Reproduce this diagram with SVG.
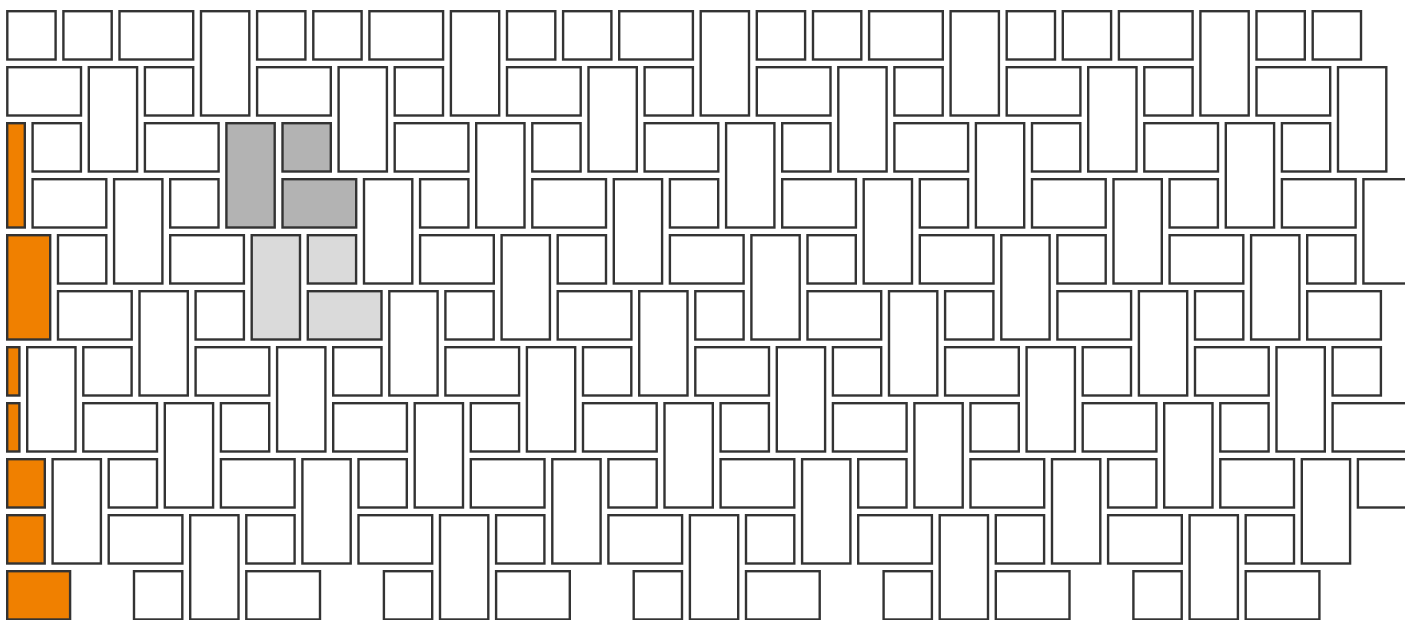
<svg xmlns="http://www.w3.org/2000/svg" width="1405" height="620" viewBox="0 0 1405 620">
<style>
rect{fill:#fff;stroke:#333;stroke-width:2.4}
.o{fill:#f08000}
.d{fill:#b3b3b3}
.l{fill:#dadada}
</style>
<rect x="0" y="0" width="1405" height="620" style="fill:#fff;stroke:none"/>
<g id="row0">
<rect x="7.3" y="11.2" width="48.3" height="48.3"/><rect x="63.4" y="11.2" width="48.3" height="48.3"/><rect x="119.5" y="11.2" width="73.7" height="48.3"/><rect x="201.0" y="11.2" width="48.3" height="104.3"/>
<rect x="257.1" y="11.2" width="48.3" height="48.3"/><rect x="313.3" y="11.2" width="48.3" height="48.3"/><rect x="369.4" y="11.2" width="73.7" height="48.3"/><rect x="450.9" y="11.2" width="48.3" height="104.3"/>
<rect x="507.0" y="11.2" width="48.3" height="48.3"/><rect x="563.1" y="11.2" width="48.3" height="48.3"/><rect x="619.2" y="11.2" width="73.7" height="48.3"/><rect x="700.7" y="11.2" width="48.3" height="104.3"/>
<rect x="756.8" y="11.2" width="48.3" height="48.3"/><rect x="813.0" y="11.2" width="48.3" height="48.3"/><rect x="869.1" y="11.2" width="73.7" height="48.3"/><rect x="950.6" y="11.2" width="48.3" height="104.3"/>
<rect x="1006.7" y="11.2" width="48.3" height="48.3"/><rect x="1062.8" y="11.2" width="48.3" height="48.3"/><rect x="1118.9" y="11.2" width="73.7" height="48.3"/><rect x="1200.4" y="11.2" width="48.3" height="104.3"/>
<rect x="1256.5" y="11.2" width="48.3" height="48.3"/><rect x="1312.7" y="11.2" width="48.3" height="48.3"/>
</g>
<g id="row1">
<rect x="7.3" y="67.2" width="73.7" height="48.3"/><rect x="88.8" y="67.2" width="48.3" height="104.3"/><rect x="144.9" y="67.2" width="48.3" height="48.3"/>
<rect x="257.1" y="67.2" width="73.7" height="48.3"/><rect x="338.6" y="67.2" width="48.3" height="104.3"/><rect x="394.7" y="67.2" width="48.3" height="48.3"/>
<rect x="507.0" y="67.2" width="73.7" height="48.3"/><rect x="588.5" y="67.2" width="48.3" height="104.3"/><rect x="644.6" y="67.2" width="48.3" height="48.3"/>
<rect x="756.8" y="67.2" width="73.7" height="48.3"/><rect x="838.3" y="67.2" width="48.3" height="104.3"/><rect x="894.4" y="67.2" width="48.3" height="48.3"/>
<rect x="1006.7" y="67.2" width="73.7" height="48.3"/><rect x="1088.2" y="67.2" width="48.3" height="104.3"/><rect x="1144.3" y="67.2" width="48.3" height="48.3"/>
<rect x="1256.5" y="67.2" width="73.7" height="48.3"/><rect x="1338.0" y="67.2" width="48.3" height="104.3"/>
</g>
<g id="row2">
<rect class="o" x="7.2" y="123.2" width="17.6" height="104.3"/><rect x="32.6" y="123.2" width="48.3" height="48.3"/><rect x="144.9" y="123.2" width="73.7" height="48.3"/>
<rect class="d" x="226.4" y="123.2" width="48.3" height="104.3"/><rect class="d" x="282.5" y="123.2" width="48.3" height="48.3"/><rect x="394.7" y="123.2" width="73.7" height="48.3"/>
<rect x="476.2" y="123.2" width="48.3" height="104.3"/><rect x="532.3" y="123.2" width="48.3" height="48.3"/><rect x="644.6" y="123.2" width="73.7" height="48.3"/>
<rect x="726.1" y="123.2" width="48.3" height="104.3"/><rect x="782.2" y="123.2" width="48.3" height="48.3"/><rect x="894.4" y="123.2" width="73.7" height="48.3"/>
<rect x="975.9" y="123.2" width="48.3" height="104.3"/><rect x="1032.0" y="123.2" width="48.3" height="48.3"/><rect x="1144.3" y="123.2" width="73.7" height="48.3"/>
<rect x="1225.8" y="123.2" width="48.3" height="104.3"/><rect x="1281.9" y="123.2" width="48.3" height="48.3"/>
</g>
<g id="row3">
<rect x="32.6" y="179.2" width="73.7" height="48.3"/><rect x="114.1" y="179.2" width="48.3" height="104.3"/><rect x="170.2" y="179.2" width="48.3" height="48.3"/>
<rect class="d" x="282.5" y="179.2" width="73.7" height="48.3"/><rect x="364.0" y="179.2" width="48.3" height="104.3"/><rect x="420.1" y="179.2" width="48.3" height="48.3"/>
<rect x="532.3" y="179.2" width="73.7" height="48.3"/><rect x="613.8" y="179.2" width="48.3" height="104.3"/><rect x="669.9" y="179.2" width="48.3" height="48.3"/>
<rect x="782.2" y="179.2" width="73.7" height="48.3"/><rect x="863.7" y="179.2" width="48.3" height="104.3"/><rect x="919.8" y="179.2" width="48.3" height="48.3"/>
<rect x="1032.0" y="179.2" width="73.7" height="48.3"/><rect x="1113.5" y="179.2" width="48.3" height="104.3"/><rect x="1169.6" y="179.2" width="48.3" height="48.3"/>
<rect x="1281.9" y="179.2" width="73.7" height="48.3"/><rect x="1363.4" y="179.2" width="48.3" height="104.3"/>
</g>
<g id="row4">
<rect class="o" x="7.2" y="235.2" width="43.0" height="104.3"/><rect x="58.0" y="235.2" width="48.3" height="48.3"/><rect x="170.2" y="235.2" width="73.7" height="48.3"/>
<rect class="l" x="251.7" y="235.2" width="48.3" height="104.3"/><rect class="l" x="307.8" y="235.2" width="48.3" height="48.3"/><rect x="420.1" y="235.2" width="73.7" height="48.3"/>
<rect x="501.6" y="235.2" width="48.3" height="104.3"/><rect x="557.7" y="235.2" width="48.3" height="48.3"/><rect x="669.9" y="235.2" width="73.7" height="48.3"/>
<rect x="751.4" y="235.2" width="48.3" height="104.3"/><rect x="807.5" y="235.2" width="48.3" height="48.3"/><rect x="919.8" y="235.2" width="73.7" height="48.3"/>
<rect x="1001.3" y="235.2" width="48.3" height="104.3"/><rect x="1057.4" y="235.2" width="48.3" height="48.3"/><rect x="1169.6" y="235.2" width="73.7" height="48.3"/>
<rect x="1251.1" y="235.2" width="48.3" height="104.3"/><rect x="1307.2" y="235.2" width="48.3" height="48.3"/>
</g>
<g id="row5">
<rect x="58.0" y="291.2" width="73.7" height="48.3"/><rect x="139.5" y="291.2" width="48.3" height="104.3"/><rect x="195.6" y="291.2" width="48.3" height="48.3"/>
<rect class="l" x="307.8" y="291.2" width="73.7" height="48.3"/><rect x="389.3" y="291.2" width="48.3" height="104.3"/><rect x="445.4" y="291.2" width="48.3" height="48.3"/>
<rect x="557.7" y="291.2" width="73.7" height="48.3"/><rect x="639.2" y="291.2" width="48.3" height="104.3"/><rect x="695.3" y="291.2" width="48.3" height="48.3"/>
<rect x="807.5" y="291.2" width="73.7" height="48.3"/><rect x="889.0" y="291.2" width="48.3" height="104.3"/><rect x="945.1" y="291.2" width="48.3" height="48.3"/>
<rect x="1057.4" y="291.2" width="73.7" height="48.3"/><rect x="1138.9" y="291.2" width="48.3" height="104.3"/><rect x="1195.0" y="291.2" width="48.3" height="48.3"/>
<rect x="1307.2" y="291.2" width="73.7" height="48.3"/>
</g>
<g id="row6">
<rect class="o" x="7.2" y="347.2" width="12.2" height="48.3"/><rect x="27.2" y="347.2" width="48.3" height="104.3"/><rect x="83.3" y="347.2" width="48.3" height="48.3"/><rect x="195.6" y="347.2" width="73.7" height="48.3"/>
<rect x="277.1" y="347.2" width="48.3" height="104.3"/><rect x="333.2" y="347.2" width="48.3" height="48.3"/><rect x="445.4" y="347.2" width="73.7" height="48.3"/>
<rect x="526.9" y="347.2" width="48.3" height="104.3"/><rect x="583.0" y="347.2" width="48.3" height="48.3"/><rect x="695.3" y="347.2" width="73.7" height="48.3"/>
<rect x="776.8" y="347.2" width="48.3" height="104.3"/><rect x="832.9" y="347.2" width="48.3" height="48.3"/><rect x="945.1" y="347.2" width="73.7" height="48.3"/>
<rect x="1026.6" y="347.2" width="48.3" height="104.3"/><rect x="1082.7" y="347.2" width="48.3" height="48.3"/><rect x="1195.0" y="347.2" width="73.7" height="48.3"/>
<rect x="1276.5" y="347.2" width="48.3" height="104.3"/><rect x="1332.6" y="347.2" width="48.3" height="48.3"/>
</g>
<g id="row7">
<rect class="o" x="7.2" y="403.2" width="12.2" height="48.3"/><rect x="83.3" y="403.2" width="73.7" height="48.3"/><rect x="164.8" y="403.2" width="48.3" height="104.3"/><rect x="220.9" y="403.2" width="48.3" height="48.3"/>
<rect x="333.2" y="403.2" width="73.7" height="48.3"/><rect x="414.7" y="403.2" width="48.3" height="104.3"/><rect x="470.8" y="403.2" width="48.3" height="48.3"/>
<rect x="583.0" y="403.2" width="73.7" height="48.3"/><rect x="664.5" y="403.2" width="48.3" height="104.3"/><rect x="720.6" y="403.2" width="48.3" height="48.3"/>
<rect x="832.9" y="403.2" width="73.7" height="48.3"/><rect x="914.4" y="403.2" width="48.3" height="104.3"/><rect x="970.5" y="403.2" width="48.3" height="48.3"/>
<rect x="1082.7" y="403.2" width="73.7" height="48.3"/><rect x="1164.2" y="403.2" width="48.3" height="104.3"/><rect x="1220.3" y="403.2" width="48.3" height="48.3"/>
<rect x="1332.6" y="403.2" width="73.7" height="48.3"/>
</g>
<g id="row8">
<rect class="o" x="7.2" y="459.2" width="37.6" height="48.3"/><rect x="52.6" y="459.2" width="48.3" height="104.3"/><rect x="108.7" y="459.2" width="48.3" height="48.3"/><rect x="220.9" y="459.2" width="73.7" height="48.3"/>
<rect x="302.4" y="459.2" width="48.3" height="104.3"/><rect x="358.5" y="459.2" width="48.3" height="48.3"/><rect x="470.8" y="459.2" width="73.7" height="48.3"/>
<rect x="552.3" y="459.2" width="48.3" height="104.3"/><rect x="608.4" y="459.2" width="48.3" height="48.3"/><rect x="720.6" y="459.2" width="73.7" height="48.3"/>
<rect x="802.1" y="459.2" width="48.3" height="104.3"/><rect x="858.2" y="459.2" width="48.3" height="48.3"/><rect x="970.5" y="459.2" width="73.7" height="48.3"/>
<rect x="1052.0" y="459.2" width="48.3" height="104.3"/><rect x="1108.1" y="459.2" width="48.3" height="48.3"/><rect x="1220.3" y="459.2" width="73.7" height="48.3"/>
<rect x="1301.8" y="459.2" width="48.3" height="104.3"/><rect x="1357.9" y="459.2" width="48.3" height="48.3"/>
</g>
<g id="row9">
<rect class="o" x="7.2" y="515.2" width="37.5" height="48.3"/><rect x="108.7" y="515.2" width="73.7" height="48.3"/><rect x="190.2" y="515.2" width="48.3" height="104.3"/><rect x="246.3" y="515.2" width="48.3" height="48.3"/>
<rect x="358.5" y="515.2" width="73.7" height="48.3"/><rect x="440.0" y="515.2" width="48.3" height="104.3"/><rect x="496.1" y="515.2" width="48.3" height="48.3"/>
<rect x="608.4" y="515.2" width="73.7" height="48.3"/><rect x="689.9" y="515.2" width="48.3" height="104.3"/><rect x="746.0" y="515.2" width="48.3" height="48.3"/>
<rect x="858.2" y="515.2" width="73.7" height="48.3"/><rect x="939.7" y="515.2" width="48.3" height="104.3"/><rect x="995.8" y="515.2" width="48.3" height="48.3"/>
<rect x="1108.1" y="515.2" width="73.7" height="48.3"/><rect x="1189.6" y="515.2" width="48.3" height="104.3"/><rect x="1245.7" y="515.2" width="48.3" height="48.3"/>
</g>
<g id="row10">
<rect class="o" x="7.2" y="571.2" width="62.9" height="48.3"/><rect x="134.0" y="571.2" width="48.3" height="48.3"/><rect x="246.3" y="571.2" width="73.7" height="48.3"/>
<rect x="383.9" y="571.2" width="48.3" height="48.3"/><rect x="496.1" y="571.2" width="73.7" height="48.3"/>
<rect x="633.7" y="571.2" width="48.3" height="48.3"/><rect x="746.0" y="571.2" width="73.7" height="48.3"/>
<rect x="883.6" y="571.2" width="48.3" height="48.3"/><rect x="995.8" y="571.2" width="73.7" height="48.3"/>
<rect x="1133.4" y="571.2" width="48.3" height="48.3"/><rect x="1245.7" y="571.2" width="73.7" height="48.3"/>
</g>
</svg>
